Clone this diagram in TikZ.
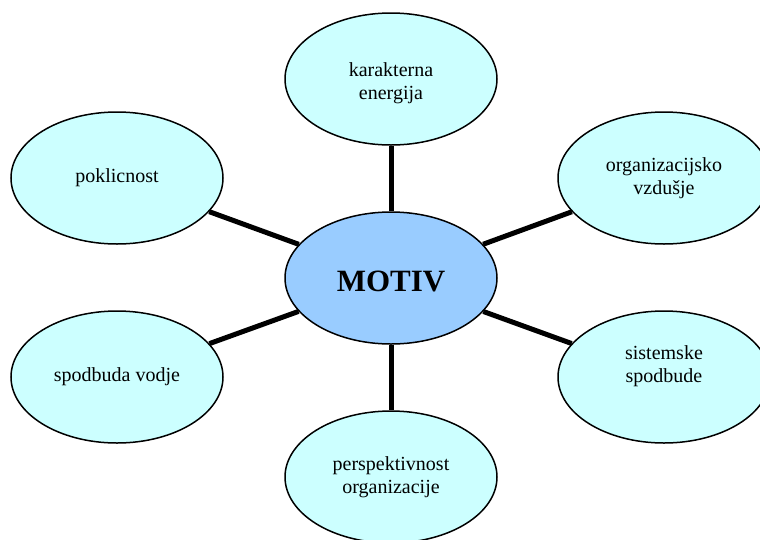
\documentclass[tikz,border=0pt]{standalone}
\usepackage{fontspec}
\setmainfont{Liberation Serif}
\usetikzlibrary{shapes.geometric,backgrounds}
\definecolor{leafblue}{HTML}{CCFFFF}
\definecolor{hubblue}{HTML}{99CCFF}
\tikzset{
  bubble/.style={ellipse, draw=black, line width=1.5pt, fill=leafblue,
    minimum width=212pt, minimum height=132pt, inner sep=0pt,
    align=center, font=\fontsize{20}{23}\selectfont},
  hub/.style={bubble, fill=hubblue, font=\fontsize{31}{34}\selectfont\bfseries},
  spoke/.style={line width=5pt, black}
}
\begin{document}
\begin{tikzpicture}[x=1pt,y=-1pt]
  \useasboundingbox (0,0) rectangle (760,539);
  \clip (0,0) rectangle (760,539);
  \node[hub]    (motiv) at (391,278) {\raisebox{-3pt}[\height][\depth]{MOTIV}};
  \node[bubble] (top)   at (391,79)  {\raisebox{-4pt}[\height][\depth]{\begin{tabular}{@{}c@{}}karakterna\\energija\end{tabular}}};
  \node[bubble] (ul)    at (117,178) {poklicnost};
  \node[bubble] (ur)    at (664,178) {organizacijsko\\vzdušje};
  \node[bubble] (ll)    at (117,377) {spodbuda vodje};
  \node[bubble] (lr)    at (664,377) {\raisebox{11pt}[\height][\depth]{\begin{tabular}{@{}c@{}}sistemske\\spodbude\end{tabular}}};
  \node[bubble] (bot)   at (391,477) {perspektivnost\\organizacije};
  \begin{pgfonlayer}{background}
    \foreach \n in {top,ul,ur,ll,lr,bot}
      \draw[spoke] (motiv) -- (\n);
  \end{pgfonlayer}
\end{tikzpicture}
\end{document}
